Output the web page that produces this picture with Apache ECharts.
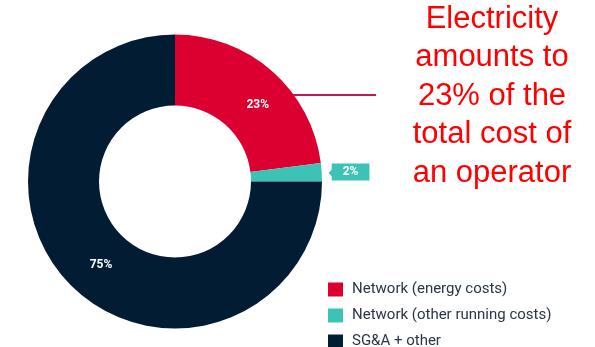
<!DOCTYPE html>
<html>
<head>
<meta charset="utf-8">
<script src="https://cdn.jsdelivr.net/npm/echarts@6/dist/echarts.min.js"></script>
<style>
  html, body { margin: 0; padding: 0; background: #fff; }
  #main { width: 595px; height: 347px; }
</style>
</head>
<body>
<div id="main"></div>
<script>
// data
var categories = ['Network (energy costs)', 'Network (other running costs)', 'SG&A + other']
var shares = [23, 2, 75]
var colors = ['#dc0030', '#3dc3b5', '#021d33']
var note = ['Electricity', 'amounts to', '23% of the', 'total cost of', 'an operator']

var myChart = echarts.init(document.getElementById('main'))

// nudge for the inside labels
var labelOffsets = [[7, 9], null, [7, 3]]

var pieData = categories.map(function (name, i) {
  var item = { name: name, value: shares[i], itemStyle: { color: colors[i] } }
  if (i === 1) {
    // small share gets an outside tag
    item.label = {
      position: 'outside',
      alignTo: 'none',
      backgroundColor: colors[i],
      color: '#fff',
      padding: [3, 11, 2, 11],
      fontSize: 12
    }
    item.labelLine = { show: false, length: 5, length2: 0 }
  } else {
    item.label = { position: 'inside', offset: labelOffsets[i] }
  }
  return item
})

var option = {
  animation: false,
  title: {
    text: note.join('\n'),
    left: 492,
    top: 0,
    padding: 0,
    textAlign: 'center',
    textStyle: {
      color: '#ff0000',
      fontFamily: 'Liberation Sans',
      fontWeight: 'normal',
      fontSize: 31,
      lineHeight: 38.5
    }
  },
  legend: {
    orient: 'vertical',
    left: 328,
    top: 282,
    width: 260,
    height: 70,
    padding: 0,
    icon: 'rect',
    itemWidth: 15,
    itemHeight: 14,
    itemGap: 11,
    data: categories,
    textStyle: { color: '#2b3544', fontSize: 15, fontFamily: 'Roboto', padding: [0, 0, 0, 4] }
  },
  graphic: [
    {
      type: 'line',
      shape: { x1: 293, y1: 95, x2: 376, y2: 95 },
      style: { stroke: '#c8145a', lineWidth: 2 }
    },
    {
      type: 'polygon',
      shape: { points: [[328.5, 173], [332, 169.5], [332, 176.5]] },
      style: { fill: colors[1] }
    }
  ],
  series: [
    {
      type: 'pie',
      center: [175, 181.5],
      radius: [76, 147],
      startAngle: 90,
      clockwise: true,
      avoidLabelOverlap: false,
      label: {
        formatter: '{c}%',
        color: '#fff',
        fontFamily: 'Roboto',
        fontWeight: 'bold',
        fontSize: 12
      },
      emphasis: { disabled: true },
      data: pieData
    }
  ]
}

myChart.setOption(option)
</script>
</body>
</html>
